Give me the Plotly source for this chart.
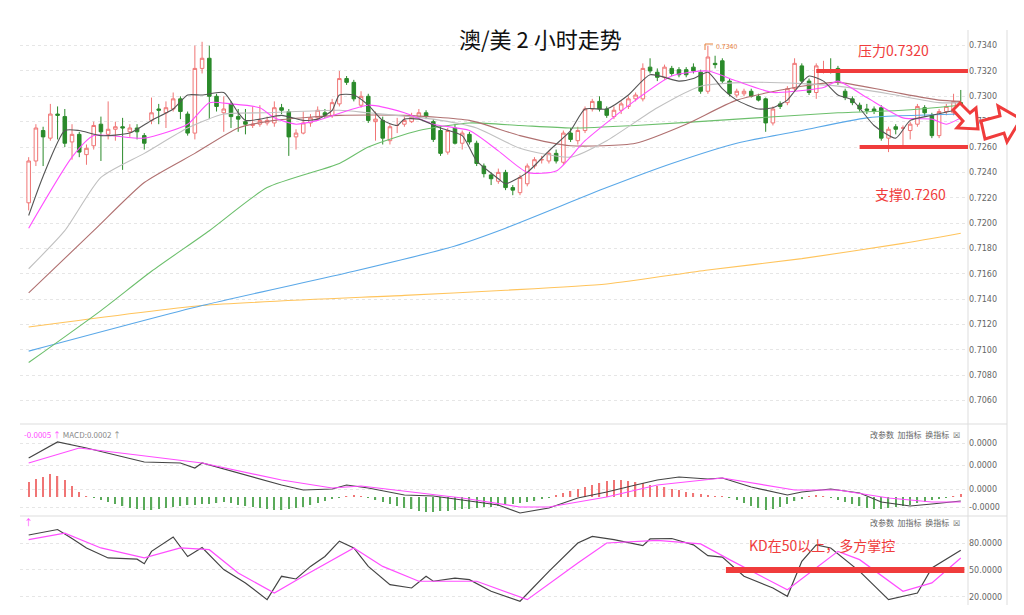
import plotly.graph_objects as go

# ---- candles (2h AUD/USD) ----
opens = [.7216,.7249,.7273,.7267,.7286,.7284,.7264,.7270,.7254,.7261,.7278,.7270,.7274,.7276,.7272,.7275,.7269,.7281,.7290,.7287,
         .7290,.7298,.7286,.7271,.7322,.7330,.7300,.7287,.7294,.7284,.7280,.7277,.7278,.7279,.7279,.7291,.7288,.7268,.7271,.7279,
         .7283,.7287,.7285,.7294,.7314,.7311,.7293,.7300,.7280,.7281,.7265,.7277,.7278,.7280,.7284,.7287,.7280,.7273,.7256,.7275,
         .7263,.7270,.7263,.7245,.7238,.7233,.7240,.7228,.7224,.7231,.7245,.7250,.7249,.7255,.7248,.7271,.7265,.7273,.7290,.7296,
         .7290,.7284,.7289,.7292,.7298,.7298,.7323,.7319,.7315,.7322,.7321,.7321,.7323,.7319,.7304,.7326,.7328,.7312,.7301,.7302,
         .7304,.7300,.7298,.7279,.7294,.7295,.7306,.7324,.7312,.7303,.7320,.7321,.7322,.7304,.7298,.7293,.7290,.7290,.7291,.7267,
         .7276,.7275,.7273,.7278,.7291,.7285,.7269,.7288,.7287,.7295]
highs = [.7252,.7278,.7276,.7294,.7292,.7290,.7278,.7272,.7262,.7280,.7284,.7296,.7280,.7283,.7278,.7278,.7271,.7299,.7294,.7296,
         .7303,.7300,.7288,.7340,.7343,.7340,.7302,.7300,.7296,.7290,.7290,.7292,.7293,.7284,.7296,.7294,.7290,.7274,.7288,.7286,
         .7292,.7290,.7298,.7320,.7316,.7313,.7304,.7302,.7288,.7284,.7278,.7283,.7285,.7287,.7290,.7289,.7282,.7276,.7275,.7278,
         .7273,.7272,.7265,.7247,.7240,.7243,.7242,.7230,.7238,.7247,.7252,.7253,.7257,.7258,.7273,.7275,.7276,.7292,.7298,.7300,
         .7292,.7292,.7296,.7300,.7303,.7326,.7330,.7322,.7325,.7324,.7323,.7323,.7326,.7321,.7340,.7332,.7330,.7314,.7306,.7306,
         .7306,.7302,.7299,.7292,.7296,.7308,.7330,.7326,.7314,.7326,.7328,.7330,.7324,.7306,.7300,.7295,.7294,.7292,.7293,.7276,
         .7278,.7277,.7280,.7294,.7293,.7287,.7290,.7294,.7302,.7305]
lows = [.7210,.7245,.7245,.7265,.7266,.7260,.7250,.7252,.7246,.7258,.7249,.7266,.7265,.7242,.7268,.7266,.7258,.7278,.7278,.7275,
        .7288,.7282,.7269,.7266,.7318,.7282,.7288,.7272,.7275,.7272,.7270,.7275,.7276,.7277,.7276,.7286,.7253,.7258,.7270,.7276,
        .7281,.7283,.7283,.7292,.7309,.7296,.7291,.7279,.7265,.7262,.7262,.7271,.7276,.7279,.7282,.7282,.7264,.7253,.7254,.7262,
        .7258,.7262,.7245,.7236,.7230,.7231,.7226,.7222,.7222,.7229,.7243,.7247,.7247,.7247,.7246,.7264,.7262,.7271,.7288,.7288,
        .7283,.7282,.7286,.7290,.7296,.7296,.7318,.7312,.7313,.7316,.7315,.7315,.7318,.7302,.7302,.7322,.7310,.7300,.7299,.7300,
        .7299,.7296,.7272,.7277,.7290,.7293,.7304,.7310,.7301,.7298,.7318,.7318,.7309,.7297,.7293,.7288,.7286,.7286,.7265,.7256,
        .7270,.7259,.7266,.7276,.7284,.7267,.7267,.7285,.7285,.7289]
closes = [.7249,.7275,.7268,.7286,.7285,.7263,.7270,.7256,.7259,.7277,.7272,.7274,.7276,.7275,.7275,.7272,.7263,.7287,.7289,.7291,
          .7298,.7288,.7271,.7322,.7330,.7300,.7292,.7290,.7284,.7282,.7278,.7278,.7281,.7281,.7291,.7289,.7268,.7271,.7279,.7283,
          .7289,.7285,.7295,.7314,.7311,.7298,.7300,.7281,.7282,.7267,.7276,.7277,.7281,.7284,.7287,.7284,.7266,.7255,.7273,.7263,
          .7271,.7264,.7247,.7239,.7235,.7240,.7228,.7226,.7236,.7245,.7250,.7250,.7255,.7249,.7271,.7266,.7273,.7290,.7296,.7290,
          .7285,.7289,.7294,.7298,.7301,.7322,.7320,.7315,.7323,.7318,.7317,.7317,.7320,.7304,.7331,.7325,.7312,.7302,.7304,.7304,
          .7300,.7297,.7279,.7290,.7292,.7306,.7326,.7312,.7303,.7324,.7321,.7319,.7311,.7299,.7295,.7290,.7289,.7288,.7267,.7274,
          .7274,.7275,.7278,.7292,.7287,.7269,.7288,.7292,.7296,.7291]
bars = list(range(len(closes)))

# ---- moving averages, read at knot bars ----
ma5_x = [0,2,5,7,10,14,17,20,22,24,27,29,30,32,35,38,40,42,43,45,47,49,51,52,54,57,60,62,65,66,69,72,75,77,80,83,86,90,92,94,96,98,101,103,105,106,108,110,112,114,117,120,122,125,129]
ma5_y = [.7206,.7237,.7273,.7273,.7269,.7271,.7281,.7290,.7301,.7301,.7303,.7287,.7281,.7282,.7285,.7281,.7282,.7289,.7301,.7301,.7293,.7281,.7277,.7282,.7282,.7275,.7269,.7249,.7235,.7231,.7240,.7257,.7273,.7290,.7290,.7301,.7317,.7312,.7314,.7319,.7306,.7297,.7290,.7291,.7297,.7304,.7316,.7312,.7301,.7297,.7277,.7267,.7281,.7285,.7290]
ma10_x = [0,6,9,16,22,25,28,32,34,37,40,47,52,56,61,65,69,73,77,84,89,94,98,103,106,110,112,116,121,125,127,129]
ma10_y = [.7196,.7252,.7269,.7267,.7278,.7295,.7294,.7291,.7283,.7278,.7281,.7293,.7287,.7278,.7273,.7257,.7240,.7241,.7265,.7297,.7316,.7320,.7312,.7303,.7304,.7307,.7312,.7299,.7283,.7282,.7278,.7283]
ma20_x = [0,5,10,16,22,27,33,43,47,56,62,68,75,80,87,93,100,107,112,119,126,129]
ma20_y = [.7164,.7194,.7236,.7255,.7275,.7286,.7287,.7289,.7287,.7282,.7275,.7259,.7252,.7265,.7291,.7308,.7311,.7310,.7308,.7302,.7295,.7295]
ma30_x = [0,9,16,23,29,34,43,52,61,68,75,84,91,98,107,112,119,126,129]
ma30_y = [.7145,.7194,.7232,.7255,.7275,.7281,.7285,.7285,.7281,.7269,.7261,.7263,.7278,.7297,.7308,.7311,.7304,.7297,.7296]
ma60_x = [0,10,17,25,33,43,47,54,61,68,75,84,98,112,121,129]
ma60_y = [.7090,.7131,.7162,.7194,.7228,.7247,.7260,.7273,.7279,.7277,.7275,.7277,.7282,.7287,.7289,.7293]
ma120_x = [0,24,45,59,66,80,89,98,107,116,129]
ma120_y = [.7099,.7135,.7162,.7182,.7196,.7228,.7247,.7263,.7273,.7283,.7286]
ma250_x = [0,24,52,66,80,94,107,121,129]
ma250_y = [.7118,.7135,.7143,.7147,.7152,.7163,.7172,.7184,.7192]
price_ticks = [.7060,.7080,.7100,.7120,.7140,.7160,.7180,.7200,.7220,.7240,.7260,.7280,.7300,.7320,.7340]

# ---- MACD (units of 0.00001) ----
macd_x = [0,4,8,16,21,23,24,29,35,38,42,44,47,52,56,60,65,68,72,76,80,84,87,90,94,96,100,105,107,111,115,118,122,125,129]
macd_y = [39,55,49,35,34,29,34,24,12,7,8,12,9,2,1,-3,-8,-16,-11,-1,5,12,17,20,18,19,10,2,5,8,4,-5,-9,-7,-4]
signal_x = [0,7,15,24,35,42,46,53,60,68,72,80,87,96,106,112,119,125,129]
signal_y = [34,49,42,34,17,9,11,5,-1,-10,-10,0,12,19,7,7,-1,-5,-5]
hist = [15,18,20,23,21,17,11,5,1,-1,
        -3,-5,-7,-9,-11,-12,-13,-13,-12,-11,-10,-9,-8,-8,-7,-7,-6,-5,-6,-8,-9,-10,-11,-12,-13,-13,-12,-11,-10,-8,-6,-4,-2,-1,1,
        2,1,-1,
        -3,-5,-7,-9,-11,-12,-14,-15,-15,-14,-14,-13,-12,-12,-11,-10,-10,-9,-8,-7,-6,-5,-4,-2,-1,
        2,4,6,8,10,12,14,16,17,17,16,15,14,12,11,10,8,7,5,4,3,
        2,1,1,-1,
        -3,-6,-9,-11,-13,-12,-10,-7,-4,
        -2,1,2,1,-1,
        -3,-5,-7,-9,-11,-12,-12,-11,-10,-9,-8,-6,-5,-3,-2,
        -1,1,3]
macd_ticks = [54, 32, 8, -10]
macd_labels = ["0.0000", "0.0000", "0.0000", "-0.0000"]

# ---- KD ----
k_x = [0,4,6,8,11,15,16,17,20,22,24,27,30,33,35,37,39,41,43,45,47,50,53,55,56,59,61,64,68,72,76,78,81,85,86,89,92,94,96,99,103,105,107,109,111,115,119,123,125,129]
k_y = [88.9,95,85,74.5,63.4,62,57,70.7,86.7,65,75,50.4,35.6,17,43,40,54,65,82,74.5,54,33.7,30,43,37.5,41,39.3,26.3,15.2,48.5,80,87.4,83.7,77,84.5,85,78,65.9,64.4,43,30,20.7,59.6,78,74.5,48.5,17,24.4,52.2,71.9]
d_x = [0,5,10,16,21,25,29,34,38,45,49,54,62,69,76,80,87,93,97,105,112,115,121,125,129]
d_y = [83.7,91,74.5,63.4,74.5,72.6,46.7,24.4,43,74.5,54,37.5,37.5,17,57.8,80,83,79,61.5,28,70.7,61.5,26.3,35.6,63.4]
kd_ticks = [20, 50, 80]

# page body has an 8px margin, so the figure is 16px smaller than the window
W, H = 1008, 599
def px(x):
    return (x - 8) / W
def py(y):
    return 1 - (y - 8) / H

fig = go.Figure()
fig.add_trace(go.Candlestick(
    x=bars, open=opens, high=highs, low=lows, close=closes,
    increasing=dict(line=dict(color="#f07575", width=1), fillcolor="#ffffff"),
    decreasing=dict(line=dict(color="#2a8a2a", width=1), fillcolor="#2a8a2a"),
    whiskerwidth=0, xaxis="x", yaxis="y"))
for xs, ys, col in [(ma250_x, ma250_y, "#ffc45c"), (ma120_x, ma120_y, "#5aa8e8"), (ma60_x, ma60_y, "#6cbf6c"),
                    (ma30_x, ma30_y, "#b07070"), (ma20_x, ma20_y, "#c0c0c0"), (ma10_x, ma10_y, "#ff4dff"),
                    (ma5_x, ma5_y, "#555555")]:
    fig.add_trace(go.Scatter(x=xs, y=ys, mode="lines", line=dict(color=col, width=1.1, shape="spline", smoothing=0.6),
                             xaxis="x", yaxis="y"))

fig.add_trace(go.Bar(x=bars, y=hist, width=0.18,
                     marker=dict(color=["#f07575" if v > 0 else "#5aaa5a" for v in hist], line_width=0),
                     xaxis="x2", yaxis="y2"))
fig.add_trace(go.Scatter(x=macd_x, y=macd_y, mode="lines", line=dict(color="#444444", width=1.2), xaxis="x2", yaxis="y2"))
fig.add_trace(go.Scatter(x=signal_x, y=signal_y, mode="lines", line=dict(color="#ff4dff", width=1.2), xaxis="x2", yaxis="y2"))

fig.add_trace(go.Scatter(x=k_x, y=k_y, mode="lines", line=dict(color="#444444", width=1.2), xaxis="x3", yaxis="y3"))
fig.add_trace(go.Scatter(x=d_x, y=d_y, mode="lines", line=dict(color="#ff4dff", width=1.2), xaxis="x3", yaxis="y3"))

xdom = [px(20), px(968)]
xcommon = dict(domain=xdom, range=[-1.2, 130], showticklabels=False, showgrid=False, zeroline=False,
               rangeslider=dict(visible=False), fixedrange=True)
ycommon = dict(side="right", showgrid=True, gridcolor="#e6e6e6", griddash="dot", zeroline=False,
               tickfont=dict(size=8, color="#666666", family="DejaVu Sans"), ticks="")

fig.update_layout(
    width=W, height=H, margin=dict(l=0, r=0, t=0, b=0),
    paper_bgcolor="white", plot_bgcolor="white", showlegend=False,
    xaxis=dict(**xcommon),
    xaxis2=dict(**xcommon, anchor="y2"),
    xaxis3=dict(**xcommon, anchor="y3"),
    yaxis=dict(**ycommon, domain=[py(420), py(30)], range=[0.70447, 0.73523],
               tickvals=price_ticks, tickformat=".4f"),
    yaxis2=dict(**ycommon, domain=[py(515), py(428)], range=[-18, 69],
                tickvals=macd_ticks, ticktext=macd_labels),
    yaxis3=dict(**ycommon, domain=[py(603), py(518)], range=[13.3, 107.8],
                tickvals=kd_ticks, ticktext=["20.0000", "50.0000", "80.0000"]),
    font=dict(family="Noto Sans CJK SC"),
)

red = "#f03c3c"
shapes = [
    # panel separators and right border lines
    dict(type="line", xref="paper", yref="paper", x0=px(20), x1=px(1007), y0=py(424), y1=py(424), line=dict(color="#dddddd", width=1)),
    dict(type="line", xref="paper", yref="paper", x0=px(20), x1=px(1007), y0=py(516), y1=py(516), line=dict(color="#dddddd", width=1)),
    dict(type="line", xref="paper", yref="paper", x0=px(968), x1=px(968), y0=py(30), y1=py(605), line=dict(color="#dddddd", width=1)),
    dict(type="line", xref="paper", yref="paper", x0=px(1007), x1=px(1007), y0=py(30), y1=py(605), line=dict(color="#dddddd", width=1)),
    # resistance / support
    dict(type="line", xref="x", yref="y", x0=109, x1=130, y0=0.7320, y1=0.7320, line=dict(color=red, width=4)),
    dict(type="line", xref="x", yref="y", x0=115, x1=130, y0=0.7260, y1=0.7260, line=dict(color=red, width=4)),
    dict(type="line", xref="x3", yref="y3", x0=96.5, x1=129.5, y0=50, y1=50, line=dict(color=red, width=6)),
    # small hook at the 0.7340 high label
    dict(type="path", xref="paper", yref="paper", line=dict(color="#e8803a", width=1),
         path="M {} {} L {} {} L {} {}".format(px(705), py(50), px(705), py(44), px(713), py(44))),
    # hollow arrows
    dict(type="path", xref="paper", yref="paper", fillcolor="white", line=dict(color=red, width=3),
         path="M {} {} L {} {} L {} {} L {} {} L {} {} L {} {} L {} {} Z".format(
             px(953), py(110), px(960), py(103), px(970), py(113), px(976), py(108),
             px(978), py(129), px(957), py(128), px(963), py(121))),
    dict(type="path", xref="paper", yref="paper", fillcolor="white", line=dict(color=red, width=3),
         path="M {} {} L {} {} L {} {} L {} {} L {} {} L {} {} L {} {} Z".format(
             px(981), py(121), px(1000), py(116), px(998), py(106), px(1021), py(119),
             px(1007), py(142), px(1004), py(133), px(985), py(139))),
]
fig.update_layout(shapes=shapes)

ann = [
    dict(x=px(540), y=py(38), text="澳/美 2 小时走势", font=dict(size=22, color="#111111")),
    dict(x=px(893), y=py(50), text="压力0.7320", font=dict(size=14, color=red)),
    dict(x=px(910), y=py(194), text="支撑0.7260", font=dict(size=14, color=red)),
    dict(x=px(822), y=py(545), text="KD在50以上，多方掌控", font=dict(size=14, color=red)),
    dict(x=px(714), y=py(46), xanchor="left", text="0.7340", font=dict(size=7, color="#e8803a")),
    dict(x=px(22), y=py(434), xanchor="left",
         text="<span style='color:#ff4dff'>-0.0005 ↑</span> MACD:0.0002 ↑", font=dict(size=8, color="#888888")),
    dict(x=px(22), y=py(522), xanchor="left", text="↑", font=dict(size=9, color="#ff4dff")),
    dict(x=px(962), y=py(434), xanchor="right", text="改参数  加指标  换指标  ☒", font=dict(size=8, color="#666666")),
    dict(x=px(962), y=py(522), xanchor="right", text="改参数  加指标  换指标  ☒", font=dict(size=8, color="#666666")),
]
for a in ann:
    a.setdefault("xanchor", "center")
    fig.add_annotation(xref="paper", yref="paper", showarrow=False, yanchor="middle", **a)

fig.write_html("out.html")
